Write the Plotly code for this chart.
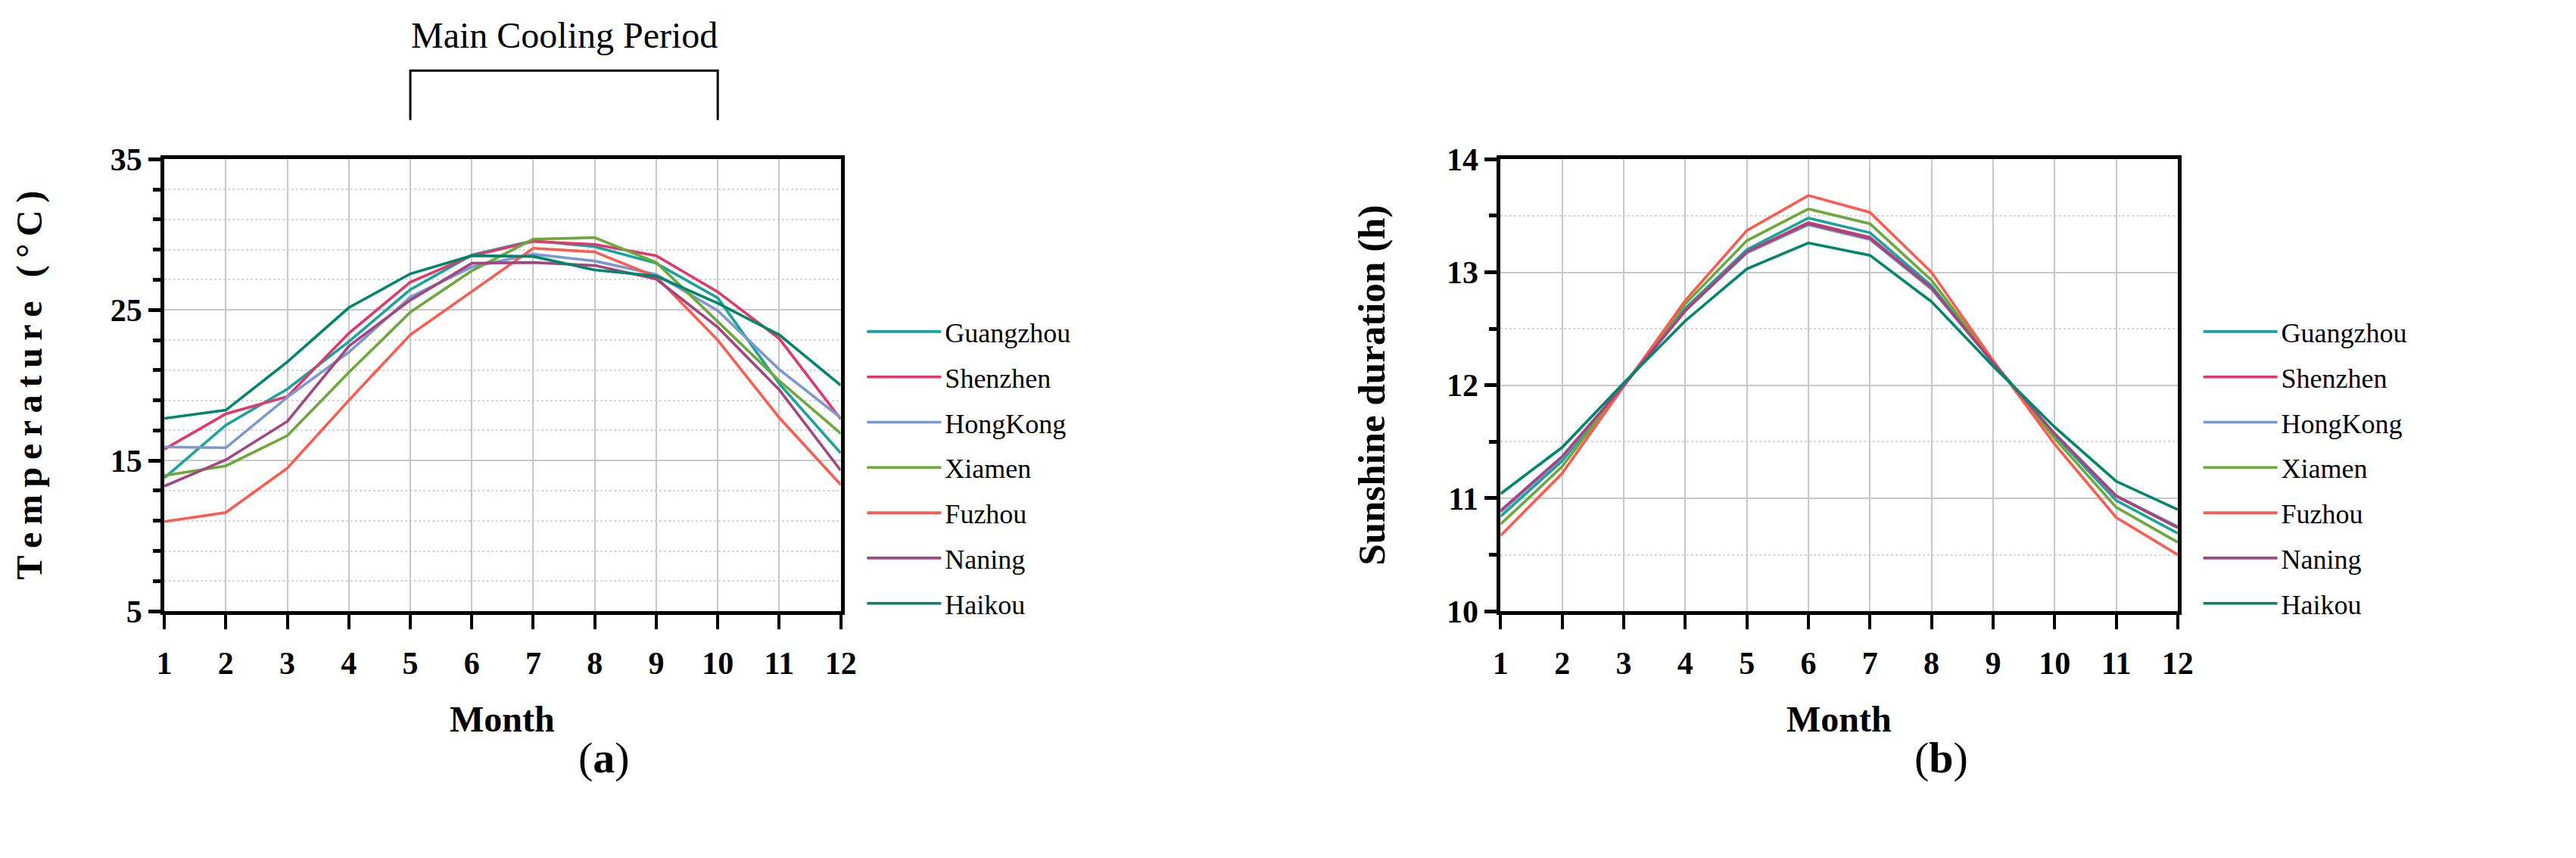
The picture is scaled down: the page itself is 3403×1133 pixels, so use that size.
import plotly.graph_objects as go

# ---------------- data ----------------
months = list(range(1, 13))
month_labels = [str(m) for m in months]
cities = ["Guangzhou", "Shenzhen", "HongKong", "Xiamen", "Fuzhou", "Naning", "Haikou"]

temp_guangzhou = [13.85, 17.35, 19.75, 22.9, 26.35, 28.65, 29.6, 29.2, 28.1, 25.8, 20.1, 15.5]
temp_shenzhen = [15.75, 18.1, 19.25, 23.45, 26.85, 28.6, 29.55, 29.35, 28.6, 26.2, 23.1, 17.75]
temp_hongkong = [15.9, 15.85, 19.2, 22.2, 25.85, 27.85, 28.7, 28.25, 27.35, 24.95, 21.05, 17.85]
temp_xiamen = [14.0, 14.65, 16.65, 20.85, 24.85, 27.6, 29.7, 29.8, 28.15, 24.2, 20.3, 16.8]
temp_fuzhou = [10.95, 11.55, 14.5, 19.0, 23.35, 26.2, 29.1, 28.85, 27.2, 23.0, 17.85, 13.4]
temp_naning = [13.3, 15.05, 17.6, 22.6, 25.65, 28.1, 28.15, 27.95, 27.05, 23.85, 19.7, 14.35]
temp_haikou = [17.8, 18.35, 21.55, 25.15, 27.4, 28.6, 28.55, 27.65, 27.25, 25.45, 23.35, 20.0]

sun_guangzhou = [10.84, 11.33, 12.0, 12.68, 13.2, 13.48, 13.35, 12.88, 12.2, 11.56, 10.98, 10.69]
sun_shenzhen = [10.88, 11.36, 12.0, 12.66, 13.18, 13.44, 13.31, 12.86, 12.2, 11.57, 11.02, 10.74]
sun_hongkong = [10.88, 11.36, 12.0, 12.66, 13.17, 13.42, 13.29, 12.85, 12.2, 11.57, 11.02, 10.75]
sun_xiamen = [10.77, 11.28, 12.0, 12.72, 13.28, 13.56, 13.43, 12.93, 12.21, 11.53, 10.92, 10.61]
sun_fuzhou = [10.67, 11.22, 11.99, 12.75, 13.37, 13.68, 13.53, 13.0, 12.22, 11.48, 10.83, 10.5]
sun_naning = [10.89, 11.37, 12.0, 12.66, 13.18, 13.43, 13.3, 12.86, 12.2, 11.57, 11.02, 10.74]
sun_haikou = [11.04, 11.45, 12.02, 12.57, 13.03, 13.26, 13.15, 12.74, 12.17, 11.63, 11.15, 10.9]

temp_ticks = [5, 15, 25, 35]
sun_ticks = [10, 11, 12, 13, 14]
cooling_start, cooling_end = 5, 10

temperature = [temp_guangzhou, temp_shenzhen, temp_hongkong, temp_xiamen,
               temp_fuzhou, temp_naning, temp_haikou]
sunshine = [sun_guangzhou, sun_shenzhen, sun_hongkong, sun_xiamen,
            sun_fuzhou, sun_naning, sun_haikou]

# ---------------- style ----------------
colors = ["#18a39c", "#e2376a", "#7d98cf", "#6ca83b", "#fb5b50", "#a2467f", "#00866a"]
W, H = 3403, 1133
SERIF = "Liberation Serif, Times New Roman, serif"
GRID = "#c8c8c8"
PLOT_TOP, PLOT_BOTTOM = 188, 810

def px_x(p):
    return p / W

def px_y(p):
    return 1 - p / H

fig = go.Figure()

for i, name in enumerate(cities):
    fig.add_trace(go.Scatter(
        x=months, y=temperature[i], mode="lines", name=name,
        line=dict(color=colors[i], width=3.6), xaxis="x", yaxis="y",
        legend="legend", legendgroup="a" + name,
    ))
for i, name in enumerate(cities):
    fig.add_trace(go.Scatter(
        x=months, y=sunshine[i], mode="lines", name=name,
        line=dict(color=colors[i], width=3.6), xaxis="x2", yaxis="y2",
        legend="legend2", legendgroup="b" + name,
    ))

tickfont = dict(family=SERIF, size=42, color="black", weight="bold")

def xaxis_style(domain):
    return dict(
        domain=domain, range=[1, 12], tickmode="array", tickvals=months,
        ticktext=month_labels, ticks="outside", ticklen=19, tickwidth=4,
        tickcolor="black", showline=True, linewidth=5, linecolor="black",
        mirror=True, showgrid=True, gridcolor=GRID, gridwidth=2,
        zeroline=False, tickfont=tickfont, ticklabelstandoff=8,
    )

def yaxis_style(rng, ticks, minor_dtick, anchor):
    return dict(
        domain=[px_y(PLOT_BOTTOM), px_y(PLOT_TOP)], range=rng, tickmode="array",
        tickvals=ticks, ticks="outside", ticklen=16, tickwidth=5,
        tickcolor="black", showline=True, linewidth=5, linecolor="black",
        mirror=True, showgrid=True, gridcolor=GRID, gridwidth=2,
        zeroline=False, tickfont=tickfont, anchor=anchor,
        minor=dict(dtick=minor_dtick, tick0=rng[0], ticks="outside", ticklen=10,
                   tickwidth=5, tickcolor="black", showgrid=True,
                   gridcolor="#d6d6d6", gridwidth=2, griddash="dot"),
    )

legend_font = dict(family=SERIF, size=36, color="black")
legend_common = dict(xanchor="left", yanchor="top", font=legend_font,
                     itemwidth=98, tracegroupgap=10, bgcolor="rgba(0,0,0,0)")

fig.update_layout(
    width=W, height=H, margin=dict(l=0, r=0, t=0, b=0),
    paper_bgcolor="white", plot_bgcolor="white",
    xaxis=xaxis_style([px_x(200), px_x(1102)]) | dict(anchor="y"),
    yaxis=yaxis_style([5, 35], temp_ticks, 2, "x"),
    xaxis2=xaxis_style([px_x(1982), px_x(2885)]) | dict(anchor="y2"),
    yaxis2=yaxis_style([10, 14], sun_ticks, 0.5, "x2"),
    legend=dict(x=px_x(1132), y=px_y(394), **legend_common),
    legend2=dict(x=px_x(2914), y=px_y(394), **legend_common),
    showlegend=True,
)

title_font = dict(family=SERIF, size=48, color="black", weight="bold")
spaced = "\u2009".join("Temperature (°C)")
mid_y = (PLOT_TOP + PLOT_BOTTOM) / 2
annotations = [
    dict(text=spaced, x=px_x(20), y=px_y(mid_y), textangle=-90, font=title_font),
    dict(text="Sunshine duration (h)", x=px_x(1810), y=px_y(mid_y), textangle=-90,
         font=title_font | dict(size=51)),
    dict(text="Month", x=px_x(651), y=px_y(958), font=title_font),
    dict(text="Month", x=px_x(2433), y=px_y(958), font=title_font),
    dict(text="(<b>a</b>)", x=px_x(786), y=px_y(1012),
         font=dict(family=SERIF, size=58, color="black")),
    dict(text="(<b>b</b>)", x=px_x(2570), y=px_y(1012),
         font=dict(family=SERIF, size=58, color="black")),
]
for a in annotations:
    a.update(xref="paper", yref="paper", showarrow=False,
             xanchor="center", yanchor="middle")
fig.update_layout(annotations=annotations)

fig.add_annotation(
    text="Main Cooling Period", x=(cooling_start + cooling_end) / 2, xref="x",
    y=px_y(17), yref="paper", showarrow=False, xanchor="center", yanchor="middle",
    font=dict(family=SERIF, size=48, color="black"),
)
fig.add_shape(
    type="path", xref="x", yref="paper",
    path=(f"M {cooling_start} {px_y(134)} L {cooling_start} {px_y(66)} "
          f"L {cooling_end} {px_y(66)} L {cooling_end} {px_y(134)}"),
    line=dict(color="black", width=3),
)

fig.write_html("out.html")
